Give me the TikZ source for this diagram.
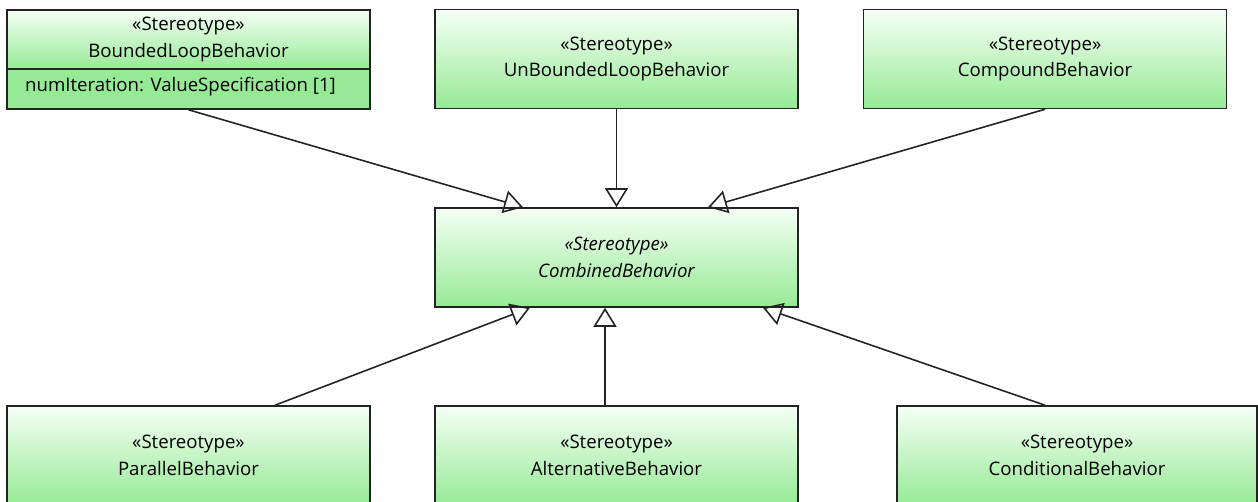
\documentclass[tikz,border=0pt]{standalone}
\usepackage{fontspec}
\setmainfont{Open Sans}
\usetikzlibrary{arrows.meta,calc}
\definecolor{ink}{RGB}{35,35,35}
\definecolor{mint}{RGB}{246,255,246}
\definecolor{umlgreen}{RGB}{150,234,150}
\tikzset{
  stereo/.style={draw=ink,line width=0.9pt,top color=mint,bottom color=umlgreen,
    minimum width=7.26cm,minimum height=1.98cm,inner sep=0pt,align=center,
    font=\fontsize{10.6}{15}\selectfont},
  attr/.style={draw=ink,line width=0.9pt,fill=umlgreen,minimum width=7.26cm,
    minimum height=0.8cm,inner sep=0pt,font=\fontsize{10.6}{15}\selectfont},
  gen/.style={-{Triangle[open,length=0.38cm,width=0.46cm]},line width=0.9pt,draw=ink},
}
\begin{document}
\begin{tikzpicture}[x=0.02cm,y=-0.02cm]
  \useasboundingbox (0,0) rectangle (1258,502);
  % top row
  \node[stereo,minimum height=1.18cm] (bl) at (188.5,39.5) {«Stereotype»\\BoundedLoopBehavior};
  \node[attr] (blattr) at (188.5,89) {};
  \node[anchor=west,font=\fontsize{10.6}{15}\selectfont] (blnum) at (19,87) {numIteration: ValueSpecification [1]};
  \node[stereo] (ubl) at (616.5,59) {«Stereotype»\\UnBoundedLoopBehavior};
  \node[stereo] (cpd) at (1045,59) {«Stereotype»\\CompoundBehavior};
  % middle
  \node[stereo,font=\fontsize{10.6}{15}\selectfont\itshape] (comb) at (616.5,257.5) {«Stereotype»\\CombinedBehavior};
  % bottom row
  \node[stereo] (par) at (188.5,455.5) {«Stereotype»\\ParallelBehavior};
  \node[stereo] (alt) at (616.5,455.5) {«Stereotype»\\AlternativeBehavior};
  \node[stereo,minimum width=7.2cm] (cond) at (1077,455.5) {«Stereotype»\\ConditionalBehavior};
  % generalizations
  \draw[gen] (blattr.south) -- ($(comb.north)+(-93.5,0)$);
  \draw[gen] (ubl.south) -- (comb.north);
  \draw[gen] (cpd.south) -- ($(comb.north)+(91.5,0)$);
  \draw[gen] ($(par.north)+(86.5,0)$) -- ($(comb.south)+(-86.5,0)$);
  \draw[gen] ($(alt.north)+(-11.5,0)$) -- ($(comb.south)+(-11.5,0)$);
  \draw[gen] ($(cond.north)+(-32,0)$) -- ($(comb.south)+(146.5,0)$);
\end{tikzpicture}
\end{document}
